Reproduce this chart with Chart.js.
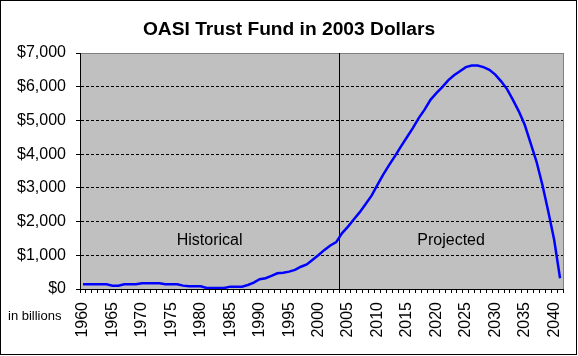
<!DOCTYPE html>
<html>
<head>
<meta charset="utf-8">
<script src="https://cdn.jsdelivr.net/npm/chart.js@4/dist/chart.umd.min.js"></script>
<style>
  html, body { margin: 0; padding: 0; background: #ffffff; }
  #wrap { width: 578px; height: 356px; }
</style>
</head>
<body>
<div id="wrap"><canvas id="c" width="578" height="356"></canvas></div>
<script>
// Categories (years)
const years = [
  1960,1961,1962,1963,1964,1965,1966,1967,1968,1969,
  1970,1971,1972,1973,1974,1975,1976,1977,1978,1979,
  1980,1981,1982,1983,1984,1985,1986,1987,1988,1989,
  1990,1991,1992,1993,1994,1995,1996,1997,1998,1999,
  2000,2001,2002,2003,2004,2005,2006,2007,2008,2009,
  2010,2011,2012,2013,2014,2015,2016,2017,2018,2019,
  2020,2021,2022,2023,2024,2025,2026,2027,2028,2029,
  2030,2031,2032,2033,2034,2035,2036,2037,2038,2039,
  2040,2041
];

// Historical values 1960-2003 (billions, 2003 dollars)
const historical = [
  140,140,140,140,140,100,100,140,140,140,
  170,170,170,170,140,140,140,100,80,80,
  80,30,30,30,30,70,70,70,120,190,
  290,320,390,465,485,515,565,660,730,870,
  1010,1160,1290,1390
];

// Projected values 2004-2041
const projected = [
  1660,1850,2070,2280,2520,2770,
  3090,3400,3680,3950,4230,4500,4770,5070,5320,5610,
  5810,5990,6190,6340,6460,6580,6630,6630,6580,6500,
  6360,6160,5930,5610,5270,4870,4330,3780,3090,2300,
  1460,320
];

// Y tick values
const yTicks = [0,1000,2000,3000,4000,5000,6000,7000];

// Region labels: [text, category index position, value]
const regionLabels = [
  ['Historical', 21.5, 1430],
  ['Projected', 62.5, 1430]
];

const titleText = 'OASI Trust Fund in 2003 Dollars';
const unitText = 'in billions';

const values = historical.concat(projected);
const splitIndex = historical.length; // first projected category
const FONT = "'Liberation Sans', Arial, sans-serif";

const decor = {
  id: 'decor',
  beforeDraw(chart) {
    const {ctx, chartArea: a} = chart;
    ctx.save();
    ctx.fillStyle = '#ffffff';
    ctx.fillRect(0, 0, chart.width, chart.height);
    ctx.fillStyle = '#c0c0c0';
    ctx.fillRect(a.left, a.top, a.right - a.left, a.bottom - a.top);
    ctx.strokeStyle = '#808080';
    ctx.lineWidth = 1;
    ctx.strokeRect(Math.round(a.left) + 0.5, Math.round(a.top) + 0.5,
                   Math.round(a.right - a.left), Math.round(a.bottom - a.top));
    ctx.restore();
  },
  afterDraw(chart) {
    const {ctx} = chart;
    const xs = chart.scales.x, ys = chart.scales.y;
    ctx.save();
    ctx.fillStyle = '#000';
    // title
    ctx.font = 'bold 19.2px ' + FONT;
    ctx.textAlign = 'center';
    ctx.textBaseline = 'alphabetic';
    ctx.fillText(titleText, 289, 35);
    // region labels
    ctx.font = '16px ' + FONT;
    ctx.textBaseline = 'middle';
    regionLabels.forEach(([t, idx, v]) => {
      ctx.fillText(t, xs.getPixelForValue(idx), ys.getPixelForValue(v));
    });
    ctx.font = '13px ' + FONT;
    ctx.textAlign = 'left';
    ctx.fillText(unitText, 8, 316);
    ctx.strokeStyle = '#000';
    ctx.lineWidth = 1;
    ctx.strokeRect(0.5, 0.5, 576, 354);
    ctx.restore();
  }
};

new Chart(document.getElementById('c'), {
  type: 'line',
  data: {
    labels: years.map(String),
    datasets: [{
      data: values,
      borderColor: '#0000ff',
      borderWidth: 2.5,
      pointRadius: 0,
      tension: 0,
      fill: false
    }]
  },
  options: {
    responsive: false,
    animation: false,
    devicePixelRatio: 1,
    layout: { padding: { left: 0, right: 15, top: 53, bottom: 0 } },
    plugins: {
      legend: { display: false },
      tooltip: { enabled: false },
      title: { display: false }
    },
    scales: {
      x: {
        type: 'category',
        offset: true,
        grid: {
          offset: true,
          drawOnChartArea: true,
          color: (c) => (c.index === splitIndex ? '#000000' : 'rgba(0,0,0,0)'),
          tickColor: '#000',
          tickLength: 4,
          lineWidth: 1
        },
        border: { color: '#000', width: 1 },
        ticks: {
          autoSkip: false,
          maxRotation: 90,
          minRotation: 90,
          padding: 9,
          color: '#000',
          font: { family: FONT, size: 16 },
          callback: (v, i) => (years[i] % 5 === 0 ? String(years[i]) : '')
        },
        afterFit: (s) => { s.height = 67; s.paddingLeft = 0; s.paddingRight = 0; }
      },
      y: {
        min: 0,
        max: 7000,
        afterBuildTicks: (s) => { s.ticks = yTicks.map(v => ({ value: v })); },
        grid: {
          color: (c) => (c.tick && (c.tick.value === 0 || c.tick.value === 7000) ? 'rgba(0,0,0,0)' : '#000'),
          tickColor: '#000',
          tickLength: 4,
          lineWidth: 1
        },
        border: { color: '#000', width: 1, dash: [3, 2] },
        ticks: {
          padding: 10,
          color: '#000',
          font: { family: FONT, size: 16 },
          callback: (v) => '$' + Number(v).toLocaleString('en-US')
        },
        afterFit: (s) => { s.width = 80; s.paddingTop = 0; s.paddingBottom = 0; }
      }
    }
  },
  plugins: [decor]
});
</script>
</body>
</html>
